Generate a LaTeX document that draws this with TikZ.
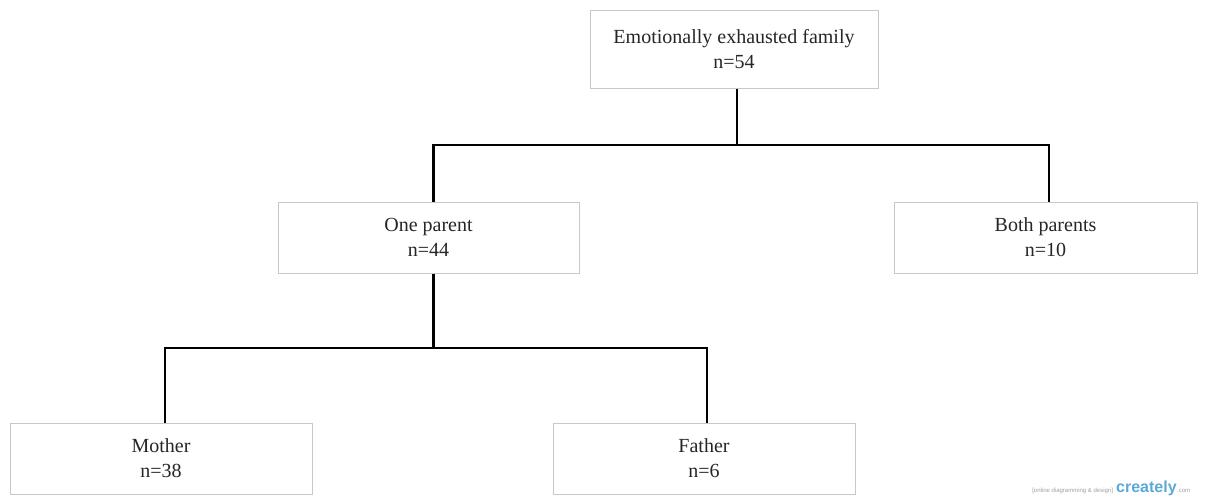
\documentclass[tikz,border=0pt]{standalone}
\usepackage{fontspec}
\setmainfont{Liberation Serif}
\newfontfamily\wmfont{Liberation Sans}
\definecolor{boxline}{HTML}{C8C8C8}
\definecolor{txt}{HTML}{262626}
\definecolor{wmgray}{HTML}{A0A0A0}
\definecolor{wmblue}{HTML}{5AAAD8}
\begin{document}
\begin{tikzpicture}[x=0.75pt,y=-0.75pt,
  box/.style={draw=boxline,line width=0.75pt,fill=white,rectangle,align=center,
    text=txt,inner sep=0pt,font=\fontsize{15}{18.75}\selectfont},
  conn/.style={draw=black,line width=2.2pt}]
\useasboundingbox (0,0) rectangle (1207,500);
\fill[white] (0,0) rectangle (1207,500);
\node[box,minimum width=216pt,minimum height=58.5pt] (top) at (734,49) {Emotionally exhausted family\\n=54};
\node[box,minimum width=225.75pt,minimum height=53.25pt] (one) at (428.5,237.5) {One parent\\n=44};
\node[box,minimum width=227.25pt,minimum height=53.25pt] (both) at (1045.5,237.5) {Both parents\\n=10};
\node[box,minimum width=226.5pt,minimum height=53.25pt] (mother) at (161,458.5) {Mother\\n=38};
\node[box,minimum width=226.5pt,minimum height=53.25pt] (father) at (704,458.5) {Father\\n=6};
\coordinate (j1) at ([xshift=2.25pt]top.south |- 0,145);
\coordinate (j2) at ([xshift=3.4pt]one.south |- 0,348);
\draw[conn] ([xshift=2.25pt]top.south) -- (j1);
\draw[conn] ([xshift=3.4pt]one.north) |- (j1) -| ([xshift=2.6pt]both.north);
\draw[conn] ([xshift=3.4pt]one.south) -- (j2);
\draw[conn] ([xshift=3pt]mother.north) |- (j2) -| ([xshift=2.25pt]father.north);
\node[anchor=base west,inner sep=0pt,font=\wmfont\fontsize{4.5}{5}\selectfont,text=wmgray] (wm1) at (1032,492) {[online diagramming \& design]};
\node[anchor=base west,inner sep=0pt,font=\wmfont\bfseries\fontsize{12}{12}\selectfont,text=wmblue] (wm2) at (wm1.base east) {\,creately};
\node[anchor=base west,inner sep=0pt,font=\wmfont\fontsize{4.5}{5}\selectfont,text=wmgray] (wm3) at (wm2.base east) {.com};
\end{tikzpicture}
\end{document}
